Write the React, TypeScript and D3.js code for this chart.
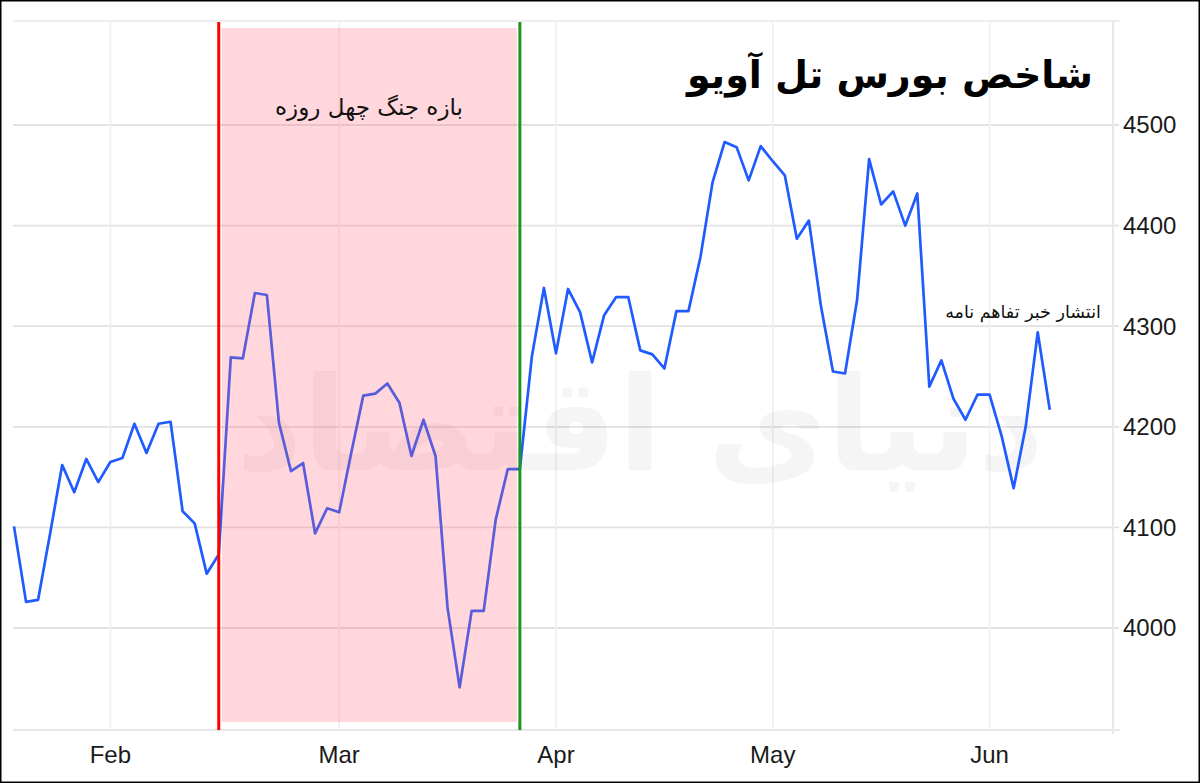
import * as d3 from "d3";

// trading-day closes (one point per session)
const values = [
  4101, 4026, 4028, 4094, 4162, 4135, 4168, 4145, 4165, 4169,
  4203, 4174, 4203, 4205, 4116, 4104, 4054, 4073, 4269, 4268,
  4333, 4331, 4204, 4156, 4164, 4094, 4119, 4115, 4174, 4231,
  4233, 4243, 4224, 4171, 4207, 4171, 4020, 3941, 4017, 4017,
  4108, 4158, 4158, 4270, 4338, 4273, 4337, 4314, 4264, 4311,
  4329, 4329, 4276, 4272, 4258, 4315, 4315, 4369, 4443, 4483,
  4478, 4445, 4479, 4464, 4450, 4387, 4405, 4320, 4255, 4253,
  4326, 4466, 4421, 4434, 4400, 4432, 4240, 4266, 4228, 4207,
  4232, 4232, 4191, 4139, 4200, 4294, 4217,
];

const monthLabels = ["Feb", "Mar", "Apr", "May", "Jun"];
const monthIndex = [8, 27, 45, 63, 81];
const yTicks = [4000, 4100, 4200, 4300, 4400, 4500];

const warStart = 17;
const warEnd = 42;

const title = "شاخص بورس تل آویو";
const warLabel = "بازه جنگ چهل روزه";
const newsLabel = "انتشار خبر تفاهم نامه";
const watermark = "دنیای اقتصاد";

const W = 1200;
const H = 783;
const left = 14;
const right = 1113;
const top = 21;
const bottom = 730;

export default function App() {
  const x = d3.scaleLinear().domain([0, 91.25]).range([left, right]);
  const y = d3.scaleLinear().domain([3898.6, 4603.4]).range([bottom, top]);

  const line = d3
    .line<number>()
    .x((_, i) => x(i))
    .y((d) => y(d));

  const arabic = "'DejaVu Sans', sans-serif";
  const latin = "'Liberation Sans', Arial, sans-serif";

  return (
    <div style={{ position: "absolute", left: 0, top: 0 }}>
      <svg width={W} height={H} style={{ display: "block", background: "#fff" }}>
        {/* horizontal grid */}
        {yTicks.map((t) => (
          <line key={t} x1={left - 1} x2={right + 6} y1={y(t)} y2={y(t)} stroke="#e2e2e2" strokeWidth={1.8} />
        ))}
        <line x1={left - 1} x2={right + 7} y1={top} y2={top} stroke="#e8e8e8" strokeWidth={1.5} />
        <line x1={left - 1} x2={right + 7} y1={bottom} y2={bottom} stroke="#e8e8e8" strokeWidth={2} />
        {/* vertical grid */}
        {monthIndex.map((m) => (
          <line key={m} x1={x(m)} x2={x(m)} y1={top} y2={bottom} stroke="#f0f0f2" strokeWidth={1.8} />
        ))}
        <line x1={right} x2={right} y1={top} y2={bottom + 4} stroke="#e8e8ea" strokeWidth={2} />

        {/* watermark */}
        <text
          x={640}
          y={470}
          textAnchor="middle"
          fontFamily={arabic}
          fontWeight="bold"
          fontSize={130}
          fill="#000"
          opacity={0.035}
        >
          {watermark}
        </text>

        <path d={line(values) ?? ""} fill="none" stroke="#1f5bff" strokeWidth={2.7} strokeLinejoin="round" />

        {/* war period */}
        <rect
          x={x(warStart) + 3}
          width={x(warEnd) - x(warStart) - 6}
          y={top + 7}
          height={bottom - top - 15}
          fill="rgb(255,100,120)"
          fillOpacity={0.26}
        />
        <line x1={x(warStart)} x2={x(warStart)} y1={top + 1} y2={bottom} stroke="#ff0000" strokeWidth={3} />
        <line x1={x(warEnd)} x2={x(warEnd)} y1={top + 1} y2={bottom} stroke="#1e961e" strokeWidth={3} />

        <text x={369} y={115} textAnchor="middle" fontFamily={arabic} fontSize={23} fill="#111">
          {warLabel}
        </text>
        <text x={1023} y={318} textAnchor="middle" fontFamily={arabic} fontSize={17.5} fill="#111">
          {newsLabel}
        </text>
        <text x={890} y={88} textAnchor="middle" fontFamily={arabic} fontWeight="bold" fontSize={38} fill="#000">
          {title}
        </text>

        {/* y axis labels */}
        {yTicks.map((t) => (
          <text key={t} x={1123} y={y(t)} dy="0.35em" fontFamily={latin} fontSize={24} fill="#1a1a1a">
            {t}
          </text>
        ))}
        {/* x axis labels */}
        {monthIndex.map((m, i) => (
          <text key={m} x={x(m)} y={763} textAnchor="middle" fontFamily={latin} fontSize={24} fill="#1a1a1a">
            {monthLabels[i]}
          </text>
        ))}

        <rect x={0.75} y={0.75} width={W - 1.5} height={H - 1.5} fill="none" stroke="#000" strokeWidth={1.5} />
      </svg>
    </div>
  );
}
